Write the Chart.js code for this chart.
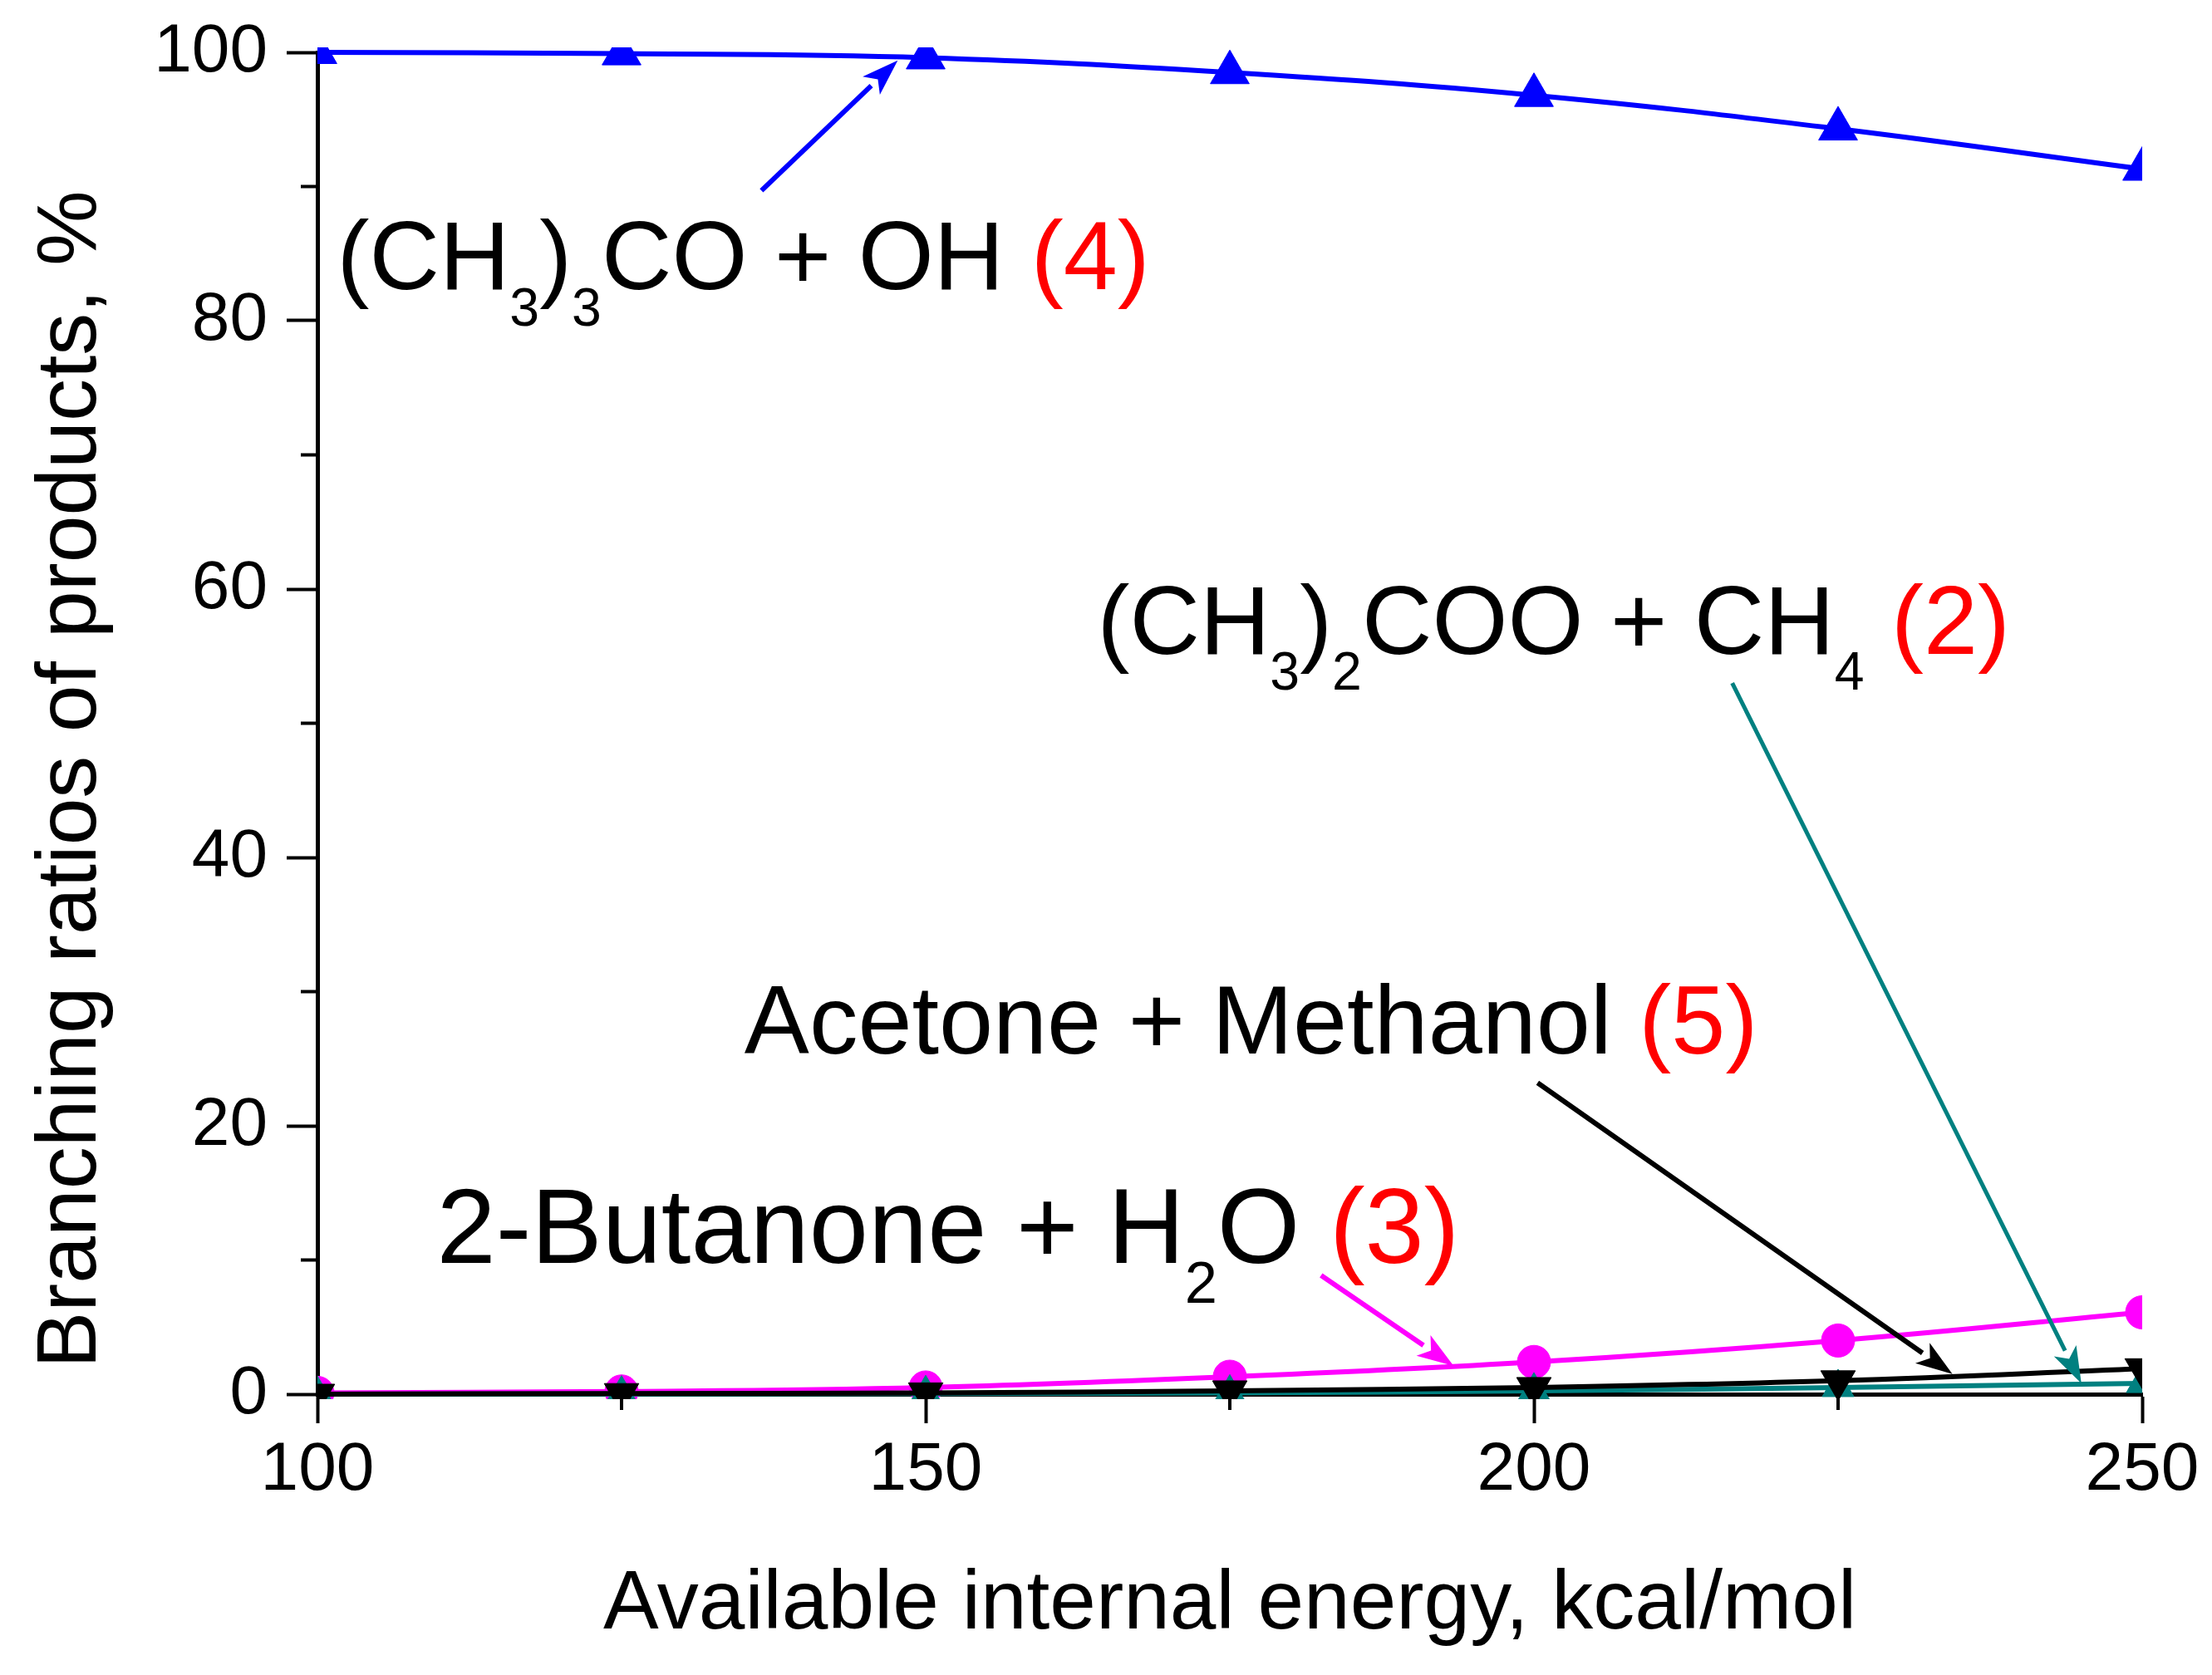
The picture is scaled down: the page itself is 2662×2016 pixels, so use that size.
<!DOCTYPE html>
<html>
<head>
<meta charset="utf-8">
<script src="https://cdn.jsdelivr.net/npm/chart.js@4.4.1/dist/chart.umd.min.js"></script>
<style>
  html, body { margin: 0; padding: 0; background: #fff; }
  canvas { display: block; }
</style>
</head>
<body>
<canvas id="chart" width="2662" height="2016"></canvas>
<script>
// Data
const energy = [100, 125, 150, 175, 200, 225, 250];
const ch3coOh = [100, 99.9, 99.6, 98.5, 96.8, 94.3, 91.3];      // (4)
const butanoneH2o = [0.1, 0.2, 0.5, 1.3, 2.4, 4.0, 6.1];        // (3)
const acetoneMethanol = [0, 0.05, 0.1, 0.25, 0.5, 1.0, 1.9];    // (5)
const ch3cooCh4 = [0, 0.02, 0.05, 0.1, 0.25, 0.5, 0.8];         // (2)

const xMinorTicks = [125, 175, 225];
const yMinorTicks = [10, 30, 50, 70, 90];

// Channel labels: "_x" = subscript char, "{...}" = red part
const labelTexts = ['(CH_3)_3CO + OH {(4)}', '(CH_3)_2COO + CH_4 {(2)}', 'Acetone + Methanol {(5)}', '2-Butanone + H_2O {(3)}'];
const labelAnchors = [[101.6, 82.35], [164.1, 55.2], [135.1, 25.4], [109.8, 9.8]];
const arrowStarts = [[136.5, 89.7], [216.3, 53.0], [200.3, 23.2], [182.5, 8.85]];
const arrowEnds = [[147.7, 99.4], [245.0, 0.8], [234.4, 1.5], [193.4, 2.1]];

const FONT = "'Liberation Sans', Arial, sans-serif";
const labelSizes = [117, 117, 117, 128];
const arrowColors = ['#0000ff', '#008080', '#000000', '#ff00ff'];
const arrowWidths = [6, 5, 6, 6];

function pts(ys) {
    return energy.map((x, i) => ({ x: x, y: ys[i] }));
}

function drawRichText(ctx, str, x, y, size) {
    let cx = x;
    let red = false;
    for (let i = 0; i < str.length; i++) {
        let ch = str[i];
        if (ch === '{') { red = true; continue; }
        if (ch === '}') { red = false; continue; }
        let sub = false;
        if (ch === '_') { sub = true; ch = str[++i]; }
        ctx.font = (sub ? size * 0.55 : size) + 'px ' + FONT;
        ctx.fillStyle = red ? '#ff0000' : '#000000';
        ctx.fillText(ch, cx, sub ? y + size * 0.375 : y);
        cx += ctx.measureText(ch).width;
    }
}

function drawArrow(ctx, x1, y1, x2, y2, color, width) {
    const ang = Math.atan2(y2 - y1, x2 - x1);
    const headLen = 44, headHalf = 15;
    const bx = x2 - headLen * Math.cos(ang);
    const by = y2 - headLen * Math.sin(ang);
    ctx.strokeStyle = color;
    ctx.lineWidth = width;
    ctx.beginPath();
    ctx.moveTo(x1, y1);
    ctx.lineTo(bx, by);
    ctx.stroke();
    ctx.fillStyle = color;
    ctx.beginPath();
    ctx.moveTo(x2, y2);
    ctx.lineTo(bx + headHalf * Math.sin(ang), by - headHalf * Math.cos(ang));
    ctx.lineTo(bx + 0.25 * headLen * Math.cos(ang), by + 0.25 * headLen * Math.sin(ang));
    ctx.lineTo(bx - headHalf * Math.sin(ang), by + headHalf * Math.cos(ang));
    ctx.closePath();
    ctx.fill();
}

// Minor ticks, axis titles, arrows and channel labels
const extrasPlugin = {
    id: 'extras',
    afterDraw(chart) {
        const ctx = chart.ctx;
        const xs = chart.scales.x, ys = chart.scales.y;
        const area = chart.chartArea;
        ctx.save();

        ctx.strokeStyle = '#000';
        ctx.lineWidth = 4;
        xMinorTicks.forEach(v => {
            const px = xs.getPixelForValue(v);
            ctx.beginPath(); ctx.moveTo(px, area.bottom); ctx.lineTo(px, area.bottom + 19); ctx.stroke();
        });
        yMinorTicks.forEach(v => {
            const py = ys.getPixelForValue(v);
            ctx.beginPath(); ctx.moveTo(area.left, py); ctx.lineTo(area.left - 20, py); ctx.stroke();
        });

        // axis titles
        ctx.fillStyle = '#000';
        ctx.font = '100px ' + FONT;
        ctx.textAlign = 'center';
        ctx.textBaseline = 'alphabetic';
        ctx.fillText('Available internal energy, kcal/mol', (area.left + area.right) / 2, 1960);
        ctx.save();
        ctx.translate(115, 938);
        ctx.rotate(-Math.PI / 2);
        ctx.font = '102px ' + FONT;
        ctx.fillText('Branching ratios of products, %', 0, 0);
        ctx.restore();

        // arrows
        arrowStarts.forEach((s, i) => {
            const e = arrowEnds[i];
            drawArrow(ctx, xs.getPixelForValue(s[0]), ys.getPixelForValue(s[1]),
                xs.getPixelForValue(e[0]), ys.getPixelForValue(e[1]), arrowColors[i], arrowWidths[i]);
        });

        // labels
        ctx.textAlign = 'left';
        labelTexts.forEach((t, i) => {
            drawRichText(ctx, t, xs.getPixelForValue(labelAnchors[i][0]), ys.getPixelForValue(labelAnchors[i][1]), labelSizes[i]);
        });
        ctx.restore();
    }
};

const lineClip = { left: 0, right: 0, top: 6, bottom: 6 };

new Chart(document.getElementById('chart'), {
    type: 'line',
    data: {
        datasets: [
            {
                label: '(CH3)2COO + CH4 (2)',
                data: pts(ch3cooCh4),
                borderColor: '#008080', backgroundColor: '#008080',
                borderWidth: 6, pointStyle: 'triangle', pointRadius: 22, pointBorderWidth: 1,
                tension: 0.4, order: 2, clip: lineClip
            },
            {
                label: 'Acetone + Methanol (5)',
                data: pts(acetoneMethanol),
                borderColor: '#000000', backgroundColor: '#000000',
                borderWidth: 6, pointStyle: 'triangle', pointRotation: 180, pointRadius: 24, pointBorderWidth: 1,
                tension: 0.4, order: 1, clip: lineClip
            },
            {
                label: '2-Butanone + H2O (3)',
                data: pts(butanoneH2o),
                borderColor: '#ff00ff', backgroundColor: '#ff00ff',
                borderWidth: 6, pointStyle: 'circle', pointRadius: 20, pointBorderWidth: 1,
                tension: 0.4, order: 3, clip: lineClip
            },
            {
                label: '(CH3)3CO + OH (4)',
                data: pts(ch3coOh),
                borderColor: '#0000ff', backgroundColor: '#0000ff',
                borderWidth: 6, pointStyle: 'triangle', pointRadius: 27, pointBorderWidth: 1,
                tension: 0.4, order: 4, clip: lineClip
            }
        ]
    },
    options: {
        responsive: false,
        animation: false,
        devicePixelRatio: 1,
        layout: { padding: { top: 63, right: 84, left: 0, bottom: 0 } },
        plugins: { legend: { display: false }, tooltip: { enabled: false } },
        scales: {
            x: {
                type: 'linear', min: 100, max: 250,
                afterFit: s => { s.height = 338; },
                ticks: { stepSize: 50, color: '#000', padding: 8, font: { family: FONT, size: 82 } },
                grid: { drawOnChartArea: false, drawTicks: true, tickLength: 35, tickWidth: 4, tickColor: '#000' },
                border: { display: true, color: '#000', width: 5 }
            },
            y: {
                type: 'linear', min: 0, max: 100,
                afterFit: s => { s.width = 382; s.paddingTop = 0; s.paddingBottom = 0; },
                ticks: { stepSize: 20, color: '#000', padding: 23, font: { family: FONT, size: 82 } },
                grid: { drawOnChartArea: false, drawTicks: true, tickLength: 37, tickWidth: 4, tickColor: '#000' },
                border: { display: true, color: '#000', width: 5 }
            }
        }
    },
    plugins: [extrasPlugin]
});
</script>
</body>
</html>
